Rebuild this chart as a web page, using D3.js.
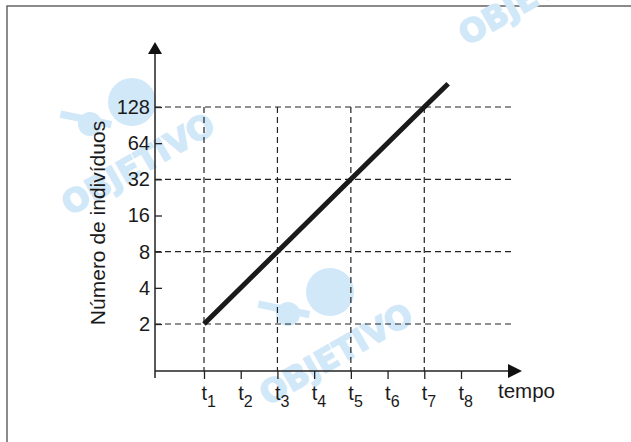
<!DOCTYPE html>
<html>
  <head>
    <meta charset="utf-8">
    <script src="https://d3js.org/d3.v7.min.js"></script>
    <style>
      body { margin: 0; background: #fff; }
      text { font-family: "Liberation Sans", Arial, sans-serif; fill: #1a1a1a; }
    </style>
  </head>
  <body>
    <script type="text/javascript">
      // valores
      var tempos = [1, 2, 3, 4, 5, 6, 7, 8];
      var tempoLabels = ["1", "2", "3", "4", "5", "6", "7", "8"];
      var yTicks = [2, 4, 8, 16, 32, 64, 128];
      var gradeT = [1, 3, 5, 7];
      var gradeN = [2, 8, 32, 128];
      // reta: dobra a cada intervalo de tempo
      var retaT = [1, 3, 5, 7, 7.65];
      var retaN = [2, 8, 32, 128, 200];
      // marcas d'agua
      var marcas = [[138, 164], [336, 354], [535, -6]];

      var W = 631, H = 442;
      var svg = d3.select("body").append("svg").attr("width", W).attr("height", H);

      var x = d3.scaleLinear().domain([1, 8]).range([204, 461]);
      var y = d3.scaleLog().base(2).domain([2, 128]).range([324, 107]);
      var x0 = 155, y0 = 371;

      // moldura
      svg.append("path")
        .attr("d", "M7," + H + "V6H" + W)
        .attr("fill", "none").attr("stroke", "#666").attr("stroke-width", 1.5);

      // marcas d'agua (OBJETIVO)
      var azul = "#d1e8f9";
      var wm = svg.selectAll(".wm").data(marcas).enter().append("g")
        .attr("transform", function (d) { return "translate(" + d[0] + "," + d[1] + ")"; })
        .attr("fill", azul);
      wm.append("circle").attr("cx", -6).attr("cy", -62).attr("r", 24);
      wm.append("circle").attr("cx", -48).attr("cy", -40).attr("r", 12);
      wm.append("path")
        .attr("d", "M-72,-60 L-22,-45 L-24,-38 L-74,-53Z")
        .attr("transform", "rotate(-5)");
      wm.append("text")
        .attr("transform", "rotate(-30)")
        .attr("text-anchor", "middle")
        .attr("dy", "0.35em")
        .style("font-family", "'DejaVu Sans', sans-serif")
        .style("font-size", "32px")
        .style("font-weight", "bold")
        .style("fill", azul)
        .style("stroke", azul)
        .style("stroke-width", 1.5)
        .text("OBJETIVO");

      // grade tracejada
      var grade = svg.append("g")
        .attr("stroke", "#222").attr("stroke-width", 1.2)
        .attr("stroke-dasharray", "6,4");
      grade.selectAll(".h").data(gradeN).enter().append("line")
        .attr("x1", x0).attr("x2", 511)
        .attr("y1", function (d) { return y(d); })
        .attr("y2", function (d) { return y(d); });
      grade.selectAll(".v").data(gradeT).enter().append("line")
        .attr("x1", function (d) { return x(d); })
        .attr("x2", function (d) { return x(d); })
        .attr("y1", y(128)).attr("y2", y0);

      // eixo y
      var gy = svg.append("g")
        .attr("transform", "translate(" + x0 + ",0)")
        .call(d3.axisLeft(y).tickValues(yTicks).tickSizeInner(-7).tickSizeOuter(0)
          .tickPadding(5).tickFormat(d3.format("d")));
      gy.select(".domain").remove();
      gy.selectAll(".tick line").attr("stroke", "#222").attr("stroke-width", 1.3);
      gy.selectAll(".tick text")
        .style("font-size", "20px")
        .style("font-family", "'Liberation Sans', Arial, sans-serif")
        .attr("fill", "#1a1a1a");

      // eixo x
      var gx = svg.append("g")
        .attr("transform", "translate(0," + y0 + ")")
        .call(d3.axisBottom(x).tickValues(tempos).tickSize(8).tickFormat(""));
      gx.select(".domain").remove();
      gx.selectAll(".tick line").attr("stroke", "#222").attr("stroke-width", 1.3);
      gx.selectAll(".tick text").remove();
      var rot = gx.selectAll(".tick").append("text")
        .attr("x", -3).attr("y", 29)
        .attr("text-anchor", "start")
        .style("font-size", "20px");
      rot.append("tspan").text("t");
      rot.append("tspan")
        .style("font-size", "16px")
        .attr("dy", 7)
        .text(function (d, i) { return tempoLabels[i]; });

      // linhas dos eixos com setas
      svg.append("line")
        .attr("x1", x0).attr("x2", x0).attr("y1", y0 + 7).attr("y2", 52)
        .attr("stroke", "#222").attr("stroke-width", 1.5);
      svg.append("path")
        .attr("d", "M" + x0 + ",42L" + (x0 - 7) + ",54L" + (x0 + 7) + ",54Z")
        .attr("fill", "#111");
      svg.append("line")
        .attr("x1", x0).attr("x2", 510).attr("y1", y0).attr("y2", y0)
        .attr("stroke", "#222").attr("stroke-width", 1.5);
      svg.append("path")
        .attr("d", "M522," + y0 + "L508," + (y0 - 7) + "L508," + (y0 + 7) + "Z")
        .attr("fill", "#111");

      // reta
      var reta = retaT.map(function (t, i) { return [t, retaN[i]]; });
      svg.append("path")
        .datum(reta)
        .attr("fill", "none")
        .attr("stroke", "#1a1a1a")
        .attr("stroke-width", 5)
        .attr("d", d3.line()
          .x(function (d) { return x(d[0]); })
          .y(function (d) { return y(d[1]); }));

      // títulos dos eixos
      svg.append("text")
        .attr("transform", "translate(105,223) rotate(-90)")
        .attr("text-anchor", "middle")
        .style("font-size", "21px")
        .text("Número de indivíduos");
      svg.append("text")
        .attr("x", 498).attr("y", 398)
        .style("font-size", "20.5px")
        .text("tempo");
    </script>
  </body>
</html>
